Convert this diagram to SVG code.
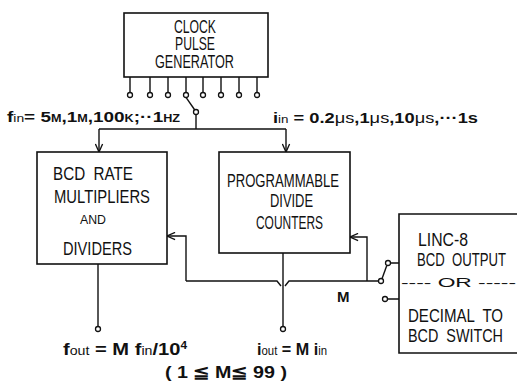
<svg xmlns="http://www.w3.org/2000/svg" width="517" height="386" viewBox="0 0 517 386">
<style>
.box{fill:none;stroke:#111;stroke-width:1.6}
.ln{fill:none;stroke:#111;stroke-width:1.4}
.term{fill:#fff;stroke:#111;stroke-width:1.3}
.lbl{font-family:"Liberation Sans Narrow","Liberation Sans",Arial,sans-serif;font-size:18px;fill:#111}
.eq{font-family:"Liberation Sans",Arial,sans-serif;font-weight:bold;fill:#111}
.sub{font-weight:normal}
</style>
<defs>
<marker id="arr" viewBox="0 0 10 10" refX="10" refY="5" markerWidth="9" markerHeight="9" markerUnits="userSpaceOnUse" orient="auto">
<path d="M1,1 L10,5 L1,9" fill="none" stroke="#111" stroke-width="1.5"/>
</marker>
</defs>
<rect width="517" height="386" fill="#fff"/>

<g id="clock">
<rect class="box" x="124" y="13" width="144" height="64"/>
<text class="lbl" x="174" y="33" textLength="42" lengthAdjust="spacingAndGlyphs">CLOCK</text>
<text class="lbl" x="175" y="50" textLength="40" lengthAdjust="spacingAndGlyphs">PULSE</text>
<text class="lbl" x="155" y="68" textLength="79" lengthAdjust="spacingAndGlyphs">GENERATOR</text>
<g class="ln">
<path d="M130,77V92.5M150,77V92.5M168,77V92.5M186,77V92.5M203,77V92.5M221,77V92.5M239,77V92.5M257,77V92.5"/>
</g>
<g class="term">
<circle cx="130" cy="95" r="2.5"/><circle cx="150" cy="95" r="2.5"/><circle cx="168" cy="95" r="2.5"/><circle cx="186" cy="95" r="2.5"/>
<circle cx="203" cy="95" r="2.5"/><circle cx="221" cy="95" r="2.5"/><circle cx="239" cy="95" r="2.5"/><circle cx="257" cy="95" r="2.5"/>
</g>
</g>

<g id="bcd">
<rect class="box" x="37" y="152" width="130" height="112"/>
<text class="lbl" x="53" y="180" xml:space="preserve" textLength="80" lengthAdjust="spacingAndGlyphs">BCD  RATE</text>
<text class="lbl" x="54" y="203" textLength="96" lengthAdjust="spacingAndGlyphs">MULTIPLIERS</text>
<text class="lbl" x="80" y="224" style="font-size:13px" textLength="26" lengthAdjust="spacingAndGlyphs">AND</text>
<text class="lbl" x="63" y="255" textLength="69" lengthAdjust="spacingAndGlyphs">DIVIDERS</text>
</g>

<g id="prog">
<rect class="box" x="219" y="152" width="131" height="101"/>
<text class="lbl" x="227" y="187" textLength="112" lengthAdjust="spacingAndGlyphs">PROGRAMMABLE</text>
<text class="lbl" x="270" y="207" textLength="43" lengthAdjust="spacingAndGlyphs">DIVIDE</text>
<text class="lbl" x="256" y="229" textLength="67" lengthAdjust="spacingAndGlyphs">COUNTERS</text>
</g>

<g id="linc">
<path class="box" d="M520,214H399V353H520"/>
<text class="lbl" x="418" y="246" textLength="50" lengthAdjust="spacingAndGlyphs">LINC-8</text>
<text class="lbl" x="417" y="266" xml:space="preserve" textLength="89" lengthAdjust="spacingAndGlyphs">BCD  OUTPUT</text>
<text class="lbl" x="401" y="287" style="font-size:12px" textLength="115" lengthAdjust="spacingAndGlyphs">---- OR -----</text>
<text class="lbl" x="408" y="322" xml:space="preserve" textLength="95" lengthAdjust="spacingAndGlyphs">DECIMAL  TO</text>
<text class="lbl" x="408" y="342" xml:space="preserve" textLength="95" lengthAdjust="spacingAndGlyphs">BCD  SWITCH</text>
</g>

<g id="connectors">
<path class="ln" d="M186,97.3L194.8,110"/>
<circle class="term" cx="196" cy="112" r="2.5"/>
<path class="ln" d="M196,114.5V129M99,129H286"/>
<path class="ln" d="M99,129V152" marker-end="url(#arr)"/>
<path class="ln" d="M286,129V152" marker-end="url(#arr)"/>
<path class="ln" d="M186,281V236H167" marker-end="url(#arr)"/>
<path class="ln" d="M367,281V237H350" marker-end="url(#arr)"/>
<path class="ln" d="M186,281H277L281,286M285,286L289,281H378.5"/>
<path class="ln" d="M98,264V326.5M283,253V326.5"/>
<circle class="term" cx="98" cy="329" r="2.5"/>
<circle class="term" cx="283" cy="329" r="2.5"/>
<circle class="term" cx="381" cy="281" r="2.5"/>
<path class="ln" d="M382,278.7L386.8,265.5"/>
<circle class="term" cx="388" cy="263" r="2.5"/>
<circle class="term" cx="385" cy="299" r="2.5"/>
<path class="ln" d="M390.5,263H399M387.5,299H399"/>
</g>

<g id="labels">
<text class="eq" x="7" y="122" style="font-size:15px" textLength="173" lengthAdjust="spacingAndGlyphs">f<tspan class="sub" style="font-size:11px">in</tspan>= 5<tspan style="font-size:10px">M</tspan>,1<tspan style="font-size:10px">M</tspan>,100<tspan style="font-size:10px">K</tspan>;··1<tspan style="font-size:10px">HZ</tspan></text>
<text class="eq" x="273" y="123" style="font-size:15px" textLength="205" lengthAdjust="spacingAndGlyphs">i<tspan class="sub" style="font-size:11px">in</tspan> = 0.2<tspan class="sub">μs</tspan>,1<tspan class="sub">μs</tspan>,10<tspan class="sub">μs</tspan>,···1s</text>
<text class="eq" x="337" y="302" style="font-size:15px">M</text>
<text class="eq" x="63" y="355" style="font-size:17px" textLength="124" lengthAdjust="spacingAndGlyphs">f<tspan class="sub" style="font-size:12px">out</tspan> = M f<tspan class="sub" style="font-size:12px">in</tspan>/10<tspan dy="-6" style="font-size:10px">4</tspan></text>
<text class="eq" x="257" y="355" style="font-size:17px" textLength="70" lengthAdjust="spacingAndGlyphs">i<tspan class="sub" style="font-size:12px">out</tspan> = M i<tspan class="sub" style="font-size:12px">in</tspan></text>
<text class="eq" x="165" y="378" style="font-size:17px" textLength="122" lengthAdjust="spacingAndGlyphs">( 1 ≦ M≦ 99 )</text>
</g>
</svg>
